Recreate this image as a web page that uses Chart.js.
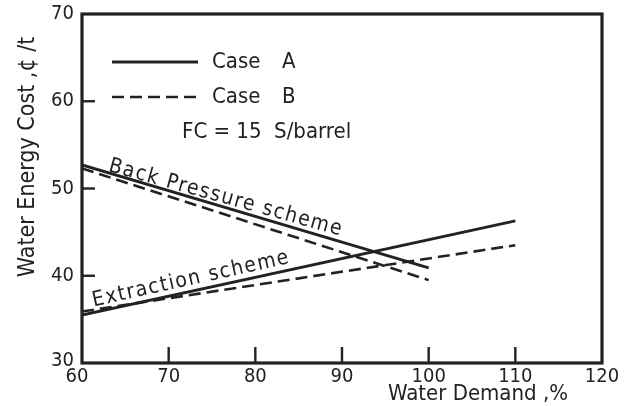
<!DOCTYPE html>
<html><head><meta charset="utf-8">
<script src="https://cdn.jsdelivr.net/npm/chart.js@4/dist/chart.umd.min.js"></script>
<style>html,body{margin:0;padding:0;background:#fff}#w{width:627px;height:406px}</style>
</head><body><div id="w"><canvas id="c" width="627" height="406"></canvas></div>
<script>
// Data
const xTickLabels = [60, 70, 80, 90, 100, 110, 120];
const yTickLabels = [30, 40, 50, 60, 70];
const backPressureDemand = [60, 100];
const backPressureCaseA = [52.7, 40.9];
const backPressureCaseB = [52.3, 39.5];
const extractionDemand = [60, 110];
const extractionCaseA = [35.5, 46.3];
const extractionCaseB = [35.9, 43.5];
const seriesNames = ['Case', 'Case'];
const seriesLetters = ['A', 'B'];
const noteText = 'FC = 15  S/barrel';
const curveLabels = ['Back Pressure scheme', 'Extraction scheme'];
const xTitle = 'Water Demand ,%';
const yTitle = 'Water Energy Cost ,\u00A2 /t';

const FONT = '"DejaVu Sans Condensed", "DejaVu Sans", sans-serif';
const INK = '#222222';
const pts = (xs, ys) => xs.map((x, i) => ({x, y: ys[i]}));

const solid = {borderColor: INK, borderWidth: 2.8, pointRadius: 0, fill: false, tension: 0};
const dashed = {...solid, borderDash: [12, 6], borderWidth: 2.6};

const decor = {
  id: 'decor',
  afterDraw(chart) {
    const {ctx, chartArea: a, scales: {x, y}} = chart;
    ctx.save();
    // frame
    ctx.strokeStyle = INK; ctx.lineWidth = 3.2;
    ctx.strokeRect(a.left, a.top, a.right - a.left, a.bottom - a.top);
    // inward ticks
    ctx.lineWidth = 2.4;
    xTickLabels.slice(1, -1).forEach(v => {
      const px = x.getPixelForValue(v);
      ctx.beginPath(); ctx.moveTo(px, a.bottom); ctx.lineTo(px, a.bottom - 16); ctx.stroke();
    });
    yTickLabels.slice(1, -1).forEach(v => {
      const py = y.getPixelForValue(v);
      ctx.beginPath(); ctx.moveTo(a.left, py); ctx.lineTo(a.left + 13, py); ctx.stroke();
    });
    // tick labels
    ctx.fillStyle = INK;
    ctx.font = '20px ' + FONT;
    ctx.textAlign = 'right'; ctx.textBaseline = 'middle';
    yTickLabels.forEach(v => {
      let py = y.getPixelForValue(v);
      if (v === 30) py -= 2;
      ctx.fillText(String(v), a.left - 8, py);
    });
    ctx.textAlign = 'center'; ctx.textBaseline = 'top';
    xTickLabels.forEach(v => {
      let px = x.getPixelForValue(v);
      if (v === 60) px -= 5;
      ctx.fillText(String(v), px, a.bottom + 4);
    });
    // axis titles
    ctx.textAlign = 'center'; ctx.textBaseline = 'middle';
    ctx.font = '22px ' + FONT;
    ctx.fillText(xTitle, 478, 394);
    ctx.save();
    ctx.translate(28, 157); ctx.rotate(-Math.PI / 2);
    ctx.font = '23px ' + FONT;
    ctx.fillText(yTitle, 0, 0);
    ctx.restore();
    // legend
    ctx.lineWidth = 2.8;
    ctx.beginPath(); ctx.moveTo(112, 62); ctx.lineTo(198, 62); ctx.stroke();
    ctx.setLineDash([12, 6]); ctx.lineWidth = 2.6;
    ctx.beginPath(); ctx.moveTo(112, 97); ctx.lineTo(198, 97); ctx.stroke();
    ctx.setLineDash([]);
    ctx.font = '22px ' + FONT;
    ctx.textAlign = 'left';
    ctx.fillText(seriesNames[0], 212, 62);
    ctx.fillText(seriesNames[1], 212, 97);
    ctx.fillText(seriesLetters[0], 282, 62);
    ctx.fillText(seriesLetters[1], 282, 97);
    ctx.fillText(noteText, 182, 132);
    // curve labels
    ctx.font = '21px ' + FONT;
    ctx.textAlign = 'center';
    try { ctx.letterSpacing = '1.5px'; } catch (e) {}
    const lab = (t, dx, dy, ang) => {
      ctx.save();
      ctx.translate(x.getPixelForValue(dx), y.getPixelForValue(dy));
      ctx.rotate(ang * Math.PI / 180);
      ctx.fillText(t, 0, 0);
      ctx.restore();
    };
    lab(curveLabels[0], 76.6, 48.9, 15.5);
    lab(curveLabels[1], 72.6, 39.6, -12.5);
    ctx.restore();
  }
};

new Chart(document.getElementById('c'), {
  type: 'line',
  data: {
    datasets: [
      {...solid, label: 'Case A', data: pts(backPressureDemand, backPressureCaseA)},
      {...dashed, label: 'Case B', data: pts(backPressureDemand, backPressureCaseB)},
      {...solid, label: 'Case A', data: pts(extractionDemand, extractionCaseA)},
      {...dashed, label: 'Case B', data: pts(extractionDemand, extractionCaseB)}
    ]
  },
  options: {
    responsive: false,
    animation: false,
    layout: {padding: {left: 0, right: 25, top: 14, bottom: 0}},
    plugins: {legend: {display: false}, tooltip: {enabled: false}},
    scales: {
      x: {type: 'linear', min: 60, max: 120,
          grid: {display: false}, border: {display: false},
          ticks: {display: false},
          afterFit(s) { s.height = 43; }},
      y: {type: 'linear', min: 30, max: 70,
          grid: {display: false}, border: {display: false},
          ticks: {display: false},
          afterFit(s) { s.width = 82; }}
    }
  },
  plugins: [decor]
});
</script>
</body></html>
